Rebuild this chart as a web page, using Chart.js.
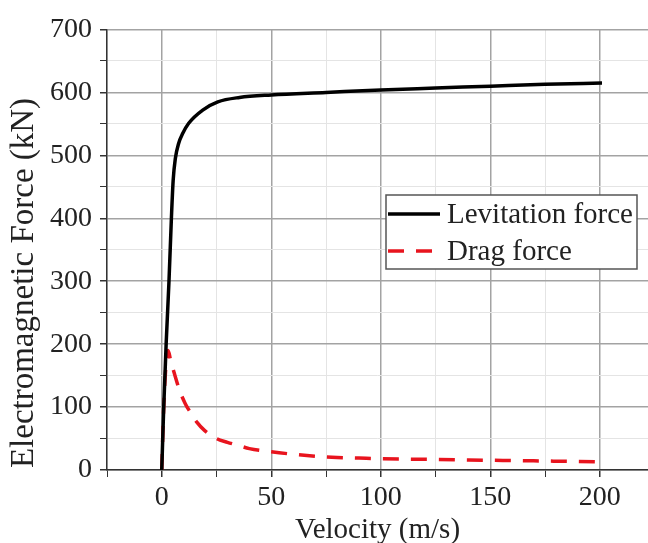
<!DOCTYPE html>
<html>
<head>
<meta charset="utf-8">
<script src="https://cdn.jsdelivr.net/npm/chart.js"></script>
<style>
html, body { margin: 0; padding: 0; background: #fff; overflow: hidden; }
#wrap { width: 648px; height: 543px; position: relative; }
</style>
</head>
<body>
<div id="wrap"><canvas id="chart"></canvas></div>
<script>
// values
const levVelocity = [0, 0.9, 2.0, 3.3, 4.4, 5.2, 6.2, 7.7, 9.6, 12.3, 18.7, 25.6, 35.5, 50, 75, 100, 125, 150, 175, 201];
const levitation  = [0, 100, 200, 300, 400, 460, 495, 519, 535, 551, 572, 585, 592, 596, 600, 604, 607, 610, 613, 615];

const dragVelocity = [0, 0.9, 2, 2.9, 4, 5.8, 8, 10.8, 13, 16, 19.5, 25, 30, 35, 40, 50, 60, 70, 80, 90, 100, 120, 140, 160, 180, 200];
const drag         = [0, 100, 170, 190, 175, 153, 128, 105, 92, 76, 63, 50, 44, 39, 34, 29, 25, 22, 20, 19, 18, 17, 16, 15, 14, 13];

const seriesLabels = ['Levitation force', 'Drag force'];
const xTitle = 'Velocity (m/s)';
const yTitle = 'Electromagnetic Force (kN)';

const serif = "'Liberation Serif', 'Times New Roman', serif";

function toPoints(xs, ys) {
    return xs.map((x, i) => ({ x: x, y: ys[i] }));
}

// legend drawn inside the plot, like the original
const insideLegend = {
    id: 'insideLegend',
    afterDraw(chart, args, opts) {
        const ctx = chart.ctx;
        ctx.save();
        ctx.fillStyle = '#fff';
        ctx.fillRect(opts.left, opts.top, opts.width, opts.height);
        ctx.strokeStyle = '#555';
        ctx.lineWidth = 1.5;
        ctx.strokeRect(opts.left, opts.top, opts.width, opts.height);
        chart.data.datasets.forEach((ds, i) => {
            const y = opts.top + opts.firstRow + i * opts.rowGap;
            ctx.strokeStyle = ds.borderColor;
            ctx.lineWidth = ds.borderWidth;
            ctx.setLineDash(ds.borderDash || []);
            ctx.beginPath();
            ctx.moveTo(opts.left + 2, y);
            ctx.lineTo(opts.left + 54, y);
            ctx.stroke();
            ctx.setLineDash([]);
            ctx.fillStyle = '#222';
            ctx.font = opts.font;
            ctx.textBaseline = 'middle';
            ctx.fillText(ds.label, opts.left + 61, y + 1);
        });
        ctx.restore();
    }
};

// y title sits a bit lower than the axis centre in the original
const sideTitle = {
    id: 'sideTitle',
    afterDraw(chart, args, opts) {
        const ctx = chart.ctx;
        ctx.save();
        ctx.translate(opts.x, opts.y);
        ctx.rotate(-Math.PI / 2);
        ctx.fillStyle = '#222';
        ctx.font = opts.font;
        ctx.textAlign = 'center';
        ctx.textBaseline = 'middle';
        ctx.fillText(opts.text, 0, 0);
        ctx.restore();
    }
};

const isMajor = (step) => (c) => c.tick && c.tick.value % step === 0;
const gridTicks = (step) => (scale) => {
    const ticks = [];
    for (let v = scale.min; v <= scale.max + 1e-9; v += step) ticks.push({ value: v });
    scale.ticks = ticks;
};

const chart = new Chart(document.getElementById('chart'), {
    type: 'scatter',
    data: {
        datasets: [{
            label: seriesLabels[0],
            data: toPoints(levVelocity, levitation),
            showLine: true,
            borderColor: '#000',
            borderWidth: 3.5,
            pointRadius: 0,
            cubicInterpolationMode: 'monotone'
        }, {
            label: seriesLabels[1],
            data: toPoints(dragVelocity, drag),
            showLine: true,
            borderColor: 'rgb(232,20,30)',
            borderWidth: 3.5,
            borderDash: [16, 12],
            pointRadius: 0,
            cubicInterpolationMode: 'monotone'
        }]
    },
    options: {
        responsive: true,
        maintainAspectRatio: false,
        animation: false,
        layout: { padding: { top: 29.5, right: 0, left: 0, bottom: 0 } },
        plugins: {
            legend: { display: false },
            tooltip: { enabled: false },
            insideLegend: {
                left: 386, top: 195, width: 251, height: 74,
                firstRow: 19, rowGap: 37,
                font: '29px ' + serif
            },
            sideTitle: { text: yTitle, x: 24, y: 283, font: '33px ' + serif }
        },
        scales: {
            x: {
                type: 'linear',
                min: -25,
                max: 222,
                afterBuildTicks: gridTicks(25),
                afterFit: (scale) => { scale.height = 73; },
                border: { color: '#333', width: 1.5 },
                grid: {
                    color: (c) => isMajor(50)(c) ? '#a3a3a3' : '#e4e4e4',
                    lineWidth: (c) => isMajor(50)(c) ? 1.5 : 1,
                    tickColor: '#333',
                    tickLength: 7
                },
                ticks: {
                    autoSkip: false,
                    color: '#222',
                    padding: 4,
                    maxRotation: 0,
                    font: { family: serif, size: 28 },
                    callback: (v) => v % 50 === 0 ? v : ''
                },
                title: { display: true, text: xTitle, color: '#222', padding: { top: 0, bottom: -5 }, font: { family: serif, size: 29 } }
            },
            y: {
                min: 0,
                max: 700,
                afterBuildTicks: gridTicks(50),
                afterFit: (scale) => { scale.width = 107; },
                border: { color: '#333', width: 1.5 },
                grid: {
                    color: (c) => isMajor(100)(c) ? '#a3a3a3' : '#e4e4e4',
                    lineWidth: (c) => isMajor(100)(c) ? 1.5 : 1,
                    tickColor: '#333',
                    tickLength: 7
                },
                ticks: {
                    autoSkip: false,
                    color: '#222',
                    padding: 8,
                    font: { family: serif, size: 28 },
                    callback: (v) => v % 100 === 0 ? v : ''
                }
            }
        }
    },
    plugins: [insideLegend, sideTitle]
});
</script>
</body>
</html>
